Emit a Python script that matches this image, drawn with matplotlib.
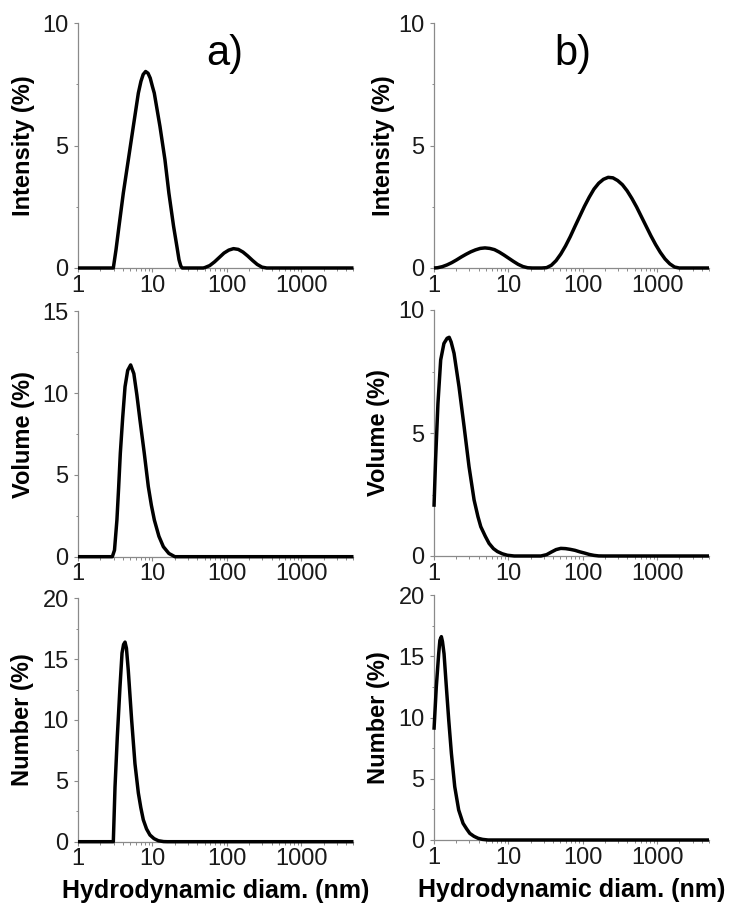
import numpy as np
import matplotlib
matplotlib.use('Agg')
import matplotlib.pyplot as plt
import matplotlib.ticker as mticker
from matplotlib import font_manager

plt.rcParams['font.family'] = ['Liberation Sans', 'DejaVu Sans']

# hydrodynamic diameter (nm) and distribution (%)

# a) intensity
d_int_a = [1, 2.98, 3.24, 3.55, 4.06, 4.74, 5.53, 6.46, 7.0, 7.5, 8.09, 8.71, 9.33, 10.0, 10.57,
           12.6, 14.7, 16.6, 19.2, 21.4, 22.7, 24.0, 25.1, 48.1, 50.75, 58.77, 68.06, 78.82,
           91.28, 105.7, 122.4, 141.8, 164.2, 190.1, 220.2, 255.0, 295.3, 342.0, 5000]
v_int_a = [0, 0, 0.75, 1.7, 3.06, 4.42, 5.78, 7.14, 7.62, 7.9, 8.02, 7.95, 7.75, 7.4, 7.14,
           5.78, 4.42, 3.06, 1.7, 0.83, 0.34, 0.08, 0, 0, 0.02, 0.10, 0.25, 0.43,
           0.61, 0.73, 0.79, 0.76, 0.65, 0.49, 0.31, 0.145, 0.035, 0, 0]

# b) intensity
d_int_b = [1.0, 1.117, 1.294, 1.499, 1.736, 2.01, 2.328, 2.696, 3.122, 3.615, 4.187, 4.849,
           5.615, 6.503, 7.531, 8.721, 10.1, 11.7, 13.54, 15.69, 18.17, 21.04, 24.36, 28.21,
           32.67, 37.84, 43.82, 50.75, 58.77, 68.06, 78.82, 91.28, 105.7, 122.4, 141.8, 164.2,
           190.1, 220.2, 255.0, 295.3, 342.0, 396.1, 458.7, 531.2, 615.1, 712.4, 825.0, 955.4,
           1106, 1281, 1484, 1718, 1990, 5000]
v_int_b = [0, 0.011, 0.055, 0.127, 0.22, 0.33, 0.45, 0.56, 0.66, 0.74, 0.80, 0.82,
           0.80, 0.75, 0.65, 0.53, 0.40, 0.27, 0.15, 0.06, 0.01, 0, 0, 0,
           0.014, 0.11, 0.30, 0.57, 0.90, 1.28, 1.70, 2.11, 2.52, 2.89, 3.22, 3.46,
           3.62, 3.70, 3.68, 3.57, 3.40, 3.15, 2.84, 2.49, 2.10, 1.71, 1.32, 0.96,
           0.64, 0.37, 0.17, 0.04, 0, 0]

# a) volume
d_vol_a = [1, 2.89, 3.09, 3.33, 3.51, 3.70, 3.98, 4.28, 4.65, 5.09, 5.62, 6.17, 6.79, 7.76,
           8.79, 9.66, 10.6, 12.2, 14.0, 16.6, 20.0, 5000]
v_vol_a = [0, 0, 0.4, 2.24, 4.2, 6.33, 8.5, 10.4, 11.4, 11.73, 11.2, 9.9, 8.37, 6.33,
           4.29, 3.15, 2.24, 1.25, 0.61, 0.2, 0, 0]

# b) volume
d_vol_b = [1.0, 1.05, 1.13, 1.23, 1.36, 1.5, 1.6, 1.70, 1.86, 2.17, 2.54, 2.96, 3.46, 3.9,
           4.26, 4.9, 5.51, 6.3, 7.14, 8.3, 9.7, 12.0, 27.4, 32.67, 37.84, 43.82, 50.75,
           58.77, 68.06, 78.82, 91.28, 105.7, 122.4, 141.8, 164.2, 190.1, 5000]
v_vol_b = [2.0, 3.9, 6.2, 7.97, 8.64, 8.85, 8.89, 8.7, 8.24, 6.88, 5.26, 3.63, 2.28, 1.6,
           1.19, 0.8, 0.51, 0.3, 0.18, 0.09, 0.03, 0, 0, 0.054, 0.16, 0.26, 0.31,
           0.30, 0.27, 0.23, 0.17, 0.12, 0.064, 0.025, 0.003, 0, 0]

# a) number
d_num_a = [1, 2.98, 3.14, 3.37, 3.66, 3.90, 4.09, 4.28, 4.47, 4.73, 5.25, 5.82, 6.46, 6.97,
           7.53, 8.32, 9.25, 10.5, 12.0, 14.1, 15.8, 5000]
v_num_a = [0, 0, 4.5, 8.6, 12.7, 15.5, 16.2, 16.4, 15.9, 14.1, 10.0, 6.4, 4.0, 2.8,
           1.8, 1.05, 0.55, 0.25, 0.08, 0.01, 0, 0]

# b) number
d_num_b = [1.0, 1.074, 1.156, 1.20, 1.256, 1.30, 1.365, 1.466, 1.578, 1.714, 1.901, 2.148,
           2.46, 2.75, 3.03, 3.45, 3.92, 4.5, 5.35, 5000]
v_num_b = [9.0, 12.5, 15.2, 16.3, 16.6, 16.2, 15.2, 12.5, 9.8, 7.07, 4.35, 2.45,
           1.36, 0.9, 0.54, 0.3, 0.14, 0.05, 0, 0]

panels = [
    # col, row, x, y, ylabel, ymax, ylabel x-position
    (0, 0, d_int_a, v_int_a, 'Intensity (%)', 10, -0.155),
    (1, 0, d_int_b, v_int_b, 'Intensity (%)', 10, -0.142),
    (0, 1, d_vol_a, v_vol_a, 'Volume (%)', 15, -0.155),
    (1, 1, d_vol_b, v_vol_b, 'Volume (%)', 10, -0.16),
    (0, 2, d_num_a, v_num_a, 'Number (%)', 20, -0.158),
    (1, 2, d_num_b, v_num_b, 'Number (%)', 20, -0.16),
]

# the panel letters in the original are tall and narrow
installed = {f.name for f in font_manager.fontManager.ttflist}
if 'Liberation Sans Narrow' in installed:
    letter_font = dict(family=['Liberation Sans Narrow', 'DejaVu Sans'], fontsize=35)
else:
    letter_font = dict(fontsize=30)

W, H = 734., 916.
col_x = [(78, 353.5), (434, 709)]
row_y = [[(23, 268), (23, 268)], [(311.5, 556.7), (310, 556)], [(598.3, 841.7), (595, 840)]]
spine_col = '#8a8a8a'

fig = plt.figure(figsize=(W / 100, H / 100), dpi=100)

axs = {}
for col, row, x, y, ylab, ymax, labx in panels:
    x0, x1 = col_x[col]
    y0, y1 = row_y[row][col]
    ax = fig.add_axes([x0 / W, 1 - y1 / H, (x1 - x0) / W, (y1 - y0) / H])
    axs[(col, row)] = ax
    ax.plot(x, y, color='black', lw=2.5, clip_on=False, zorder=5,
            solid_joinstyle='round', solid_capstyle='butt')
    ax.set_xscale('log')
    ax.set_xlim(1, 5000)
    ax.set_ylim(0, ymax)
    ax.set_xticks([1, 10, 100, 1000])
    ax.set_xticklabels(['1', '10', '100', '1000'])
    ax.xaxis.set_minor_locator(mticker.LogLocator(base=10, subs=np.arange(2, 10), numticks=20))
    ax.xaxis.set_minor_formatter(mticker.NullFormatter())
    ax.yaxis.set_major_locator(mticker.MultipleLocator(5))
    ax.yaxis.set_minor_locator(mticker.MultipleLocator(2.5))
    for s in ['top', 'right']:
        ax.spines[s].set_visible(False)
    for s in ['left', 'bottom']:
        ax.spines[s].set_color(spine_col)
        ax.spines[s].set_linewidth(0.9)
    ax.tick_params(which='major', direction='out', length=3.2, width=0.8, color=spine_col,
                   labelsize=17, labelcolor='#1a1a1a')
    ax.tick_params(axis='x', which='major', pad=1.5)
    ax.tick_params(axis='y', which='major', pad=3.5)
    ax.tick_params(which='minor', direction='out', length=1.8, width=0.7, color=spine_col)
    ax.set_ylabel(ylab, fontsize=17, fontweight='bold')
    ax.yaxis.set_label_coords(labx, 0.5)
    if row == 2:
        ax.set_xlabel('Hydrodynamic diam. (nm)', fontsize=18, fontweight='bold')
        ax.xaxis.set_label_coords(0.5, -0.155)

axs[(0, 0)].text(0.531, 0.875, 'a)', transform=axs[(0, 0)].transAxes,
                 ha='center', va='center', **letter_font)
axs[(1, 0)].text(0.504, 0.875, 'b)', transform=axs[(1, 0)].transAxes,
                 ha='center', va='center', **letter_font)

fig.savefig('out.png', dpi=100)
